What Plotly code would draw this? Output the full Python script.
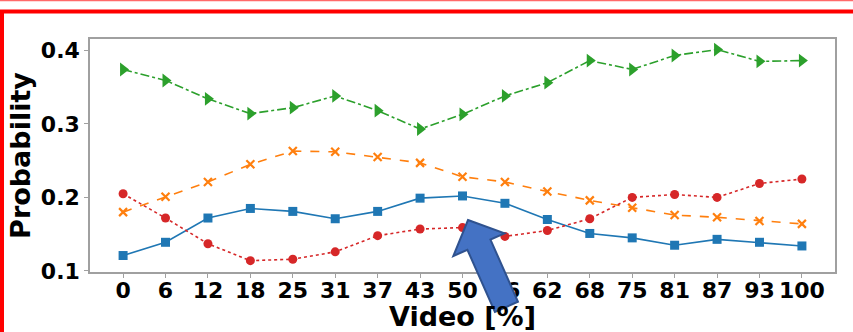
import math
import plotly.graph_objects as go

# Video progress checkpoints (percent)
video_pct = ["0", "6", "12", "18", "25", "31", "37", "43", "50",
             "56", "62", "68", "75", "81", "87", "93", "100"]

# Probability per state along the video
prob_blue = [0.121, 0.139, 0.172, 0.185, 0.181, 0.171, 0.181, 0.199, 0.202,
             0.192, 0.170, 0.151, 0.145, 0.135, 0.143, 0.139, 0.134]
prob_orange = [0.180, 0.201, 0.221, 0.245, 0.263, 0.262, 0.255, 0.247, 0.228,
               0.221, 0.208, 0.196, 0.186, 0.176, 0.173, 0.168, 0.164]
prob_green = [0.374, 0.359, 0.334, 0.314, 0.322, 0.338, 0.318, 0.293, 0.313,
              0.338, 0.356, 0.386, 0.374, 0.393, 0.401, 0.385, 0.386]
prob_red = [0.205, 0.172, 0.137, 0.114, 0.116, 0.126, 0.148, 0.157, 0.159,
            0.147, 0.155, 0.171, 0.200, 0.204, 0.200, 0.219, 0.225]

y_ticks = [0.1, 0.2, 0.3, 0.4]

W, H = 853, 332
ML, MR, MT, MB = 90, 18, 39, 60
PW, PH = W - ML - MR, H - MT - MB

FONT = "DejaVu Sans"

series = [
    (prob_blue, "#1f77b4", "solid", "square", 9),
    (prob_orange, "#ff7f0e", "dash", "x-thin-open", 8),
    (prob_green, "#2ca02c", "dashdot", "triangle-right", 12),
    (prob_red, "#d62728", "dot", "circle", 9),
]

fig = go.Figure()
for vals, color, dash, symbol, size in series:
    fig.add_trace(go.Scatter(
        x=video_pct, y=vals, mode="lines+markers",
        line=dict(color=color, width=1.6, dash=dash),
        marker=dict(symbol=symbol, size=size, color=color,
                    line=dict(color=color, width=2.2 if symbol.startswith("x") else 0)),
        showlegend=False,
    ))


def px_to_paper(px, py):
    return (px - ML) / PW, (H - MB - py) / PH


# Block arrow drawn as a closed path (pixel geometry -> paper coords)
tip = (468.0, 220.0)
ux, uy = 0.405, 0.915
norm = math.hypot(ux, uy)
ux, uy = ux / norm, uy / norm
qx, qy = uy, -ux
head_len, head_half, shaft_half, total_len = 27.0, 28.0, 12.6, 95.0


def pt(a, p):
    return (tip[0] + a * ux + p * qx, tip[1] + a * uy + p * qy)


arrow_px = [pt(0, 0), pt(head_len, head_half), pt(head_len, shaft_half),
            pt(total_len, shaft_half), pt(total_len, -shaft_half),
            pt(head_len, -shaft_half), pt(head_len, -head_half)]
arrow_paper = [px_to_paper(x, y) for x, y in arrow_px]
path = "M " + " L ".join(f"{x:.5f},{y:.5f}" for x, y in arrow_paper) + " Z"

x0, y0 = px_to_paper(2, 345)
x1, y1 = px_to_paper(870, 11.5)
tx0, ty0 = px_to_paper(-5, 0.6)
tx1, _ = px_to_paper(870, 0.6)

shapes = [
    dict(type="rect", xref="paper", yref="paper", x0=x0, y0=y0, x1=x1, y1=y1,
         line=dict(color="#ff0000", width=4), fillcolor="rgba(0,0,0,0)", layer="above"),
    dict(type="line", xref="paper", yref="paper", x0=tx0, y0=ty0, x1=tx1, y1=ty0,
         line=dict(color="#ff6a6a", width=1.5), layer="above"),
    dict(type="path", xref="paper", yref="paper", path=path,
         fillcolor="#4472c4", line=dict(color="#2f528f", width=2), layer="above"),
]

fig.update_layout(
    width=W, height=H,
    margin=dict(l=ML, r=MR, t=MT, b=MB, autoexpand=False),
    paper_bgcolor="white", plot_bgcolor="white",
    font=dict(family=FONT, color="black"),
    shapes=shapes,
    xaxis=dict(
        type="category", range=[-0.78, 16.78], automargin=False,
        showline=True, mirror=True, linecolor="#a0a0a0", linewidth=1.5,
        showgrid=False, zeroline=False,
        ticks="outside", ticklen=4, tickwidth=1, tickcolor="#a0a0a0",
        ticklabelstandoff=-6,
        tickfont=dict(family=FONT, size=22, color="black", weight="bold"),
        title=dict(text="Video [%]", standoff=10,
                   font=dict(family=FONT, size=27, color="black", weight="bold")),
    ),
    yaxis=dict(
        range=[0.0986, 0.4154], automargin=False,
        tickvals=y_ticks, ticktext=[f"{v:.1f}" for v in y_ticks],
        showline=True, mirror=True, linecolor="#a0a0a0", linewidth=1.5,
        showgrid=False, zeroline=False,
        ticks="outside", ticklen=4, tickwidth=1, tickcolor="#a0a0a0",
        tickfont=dict(family=FONT, size=22, color="black", weight="bold"),
        title=dict(text="Probability", standoff=2,
                   font=dict(family=FONT, size=27, color="black", weight="bold")),
    ),
)

fig.write_html("out.html")
